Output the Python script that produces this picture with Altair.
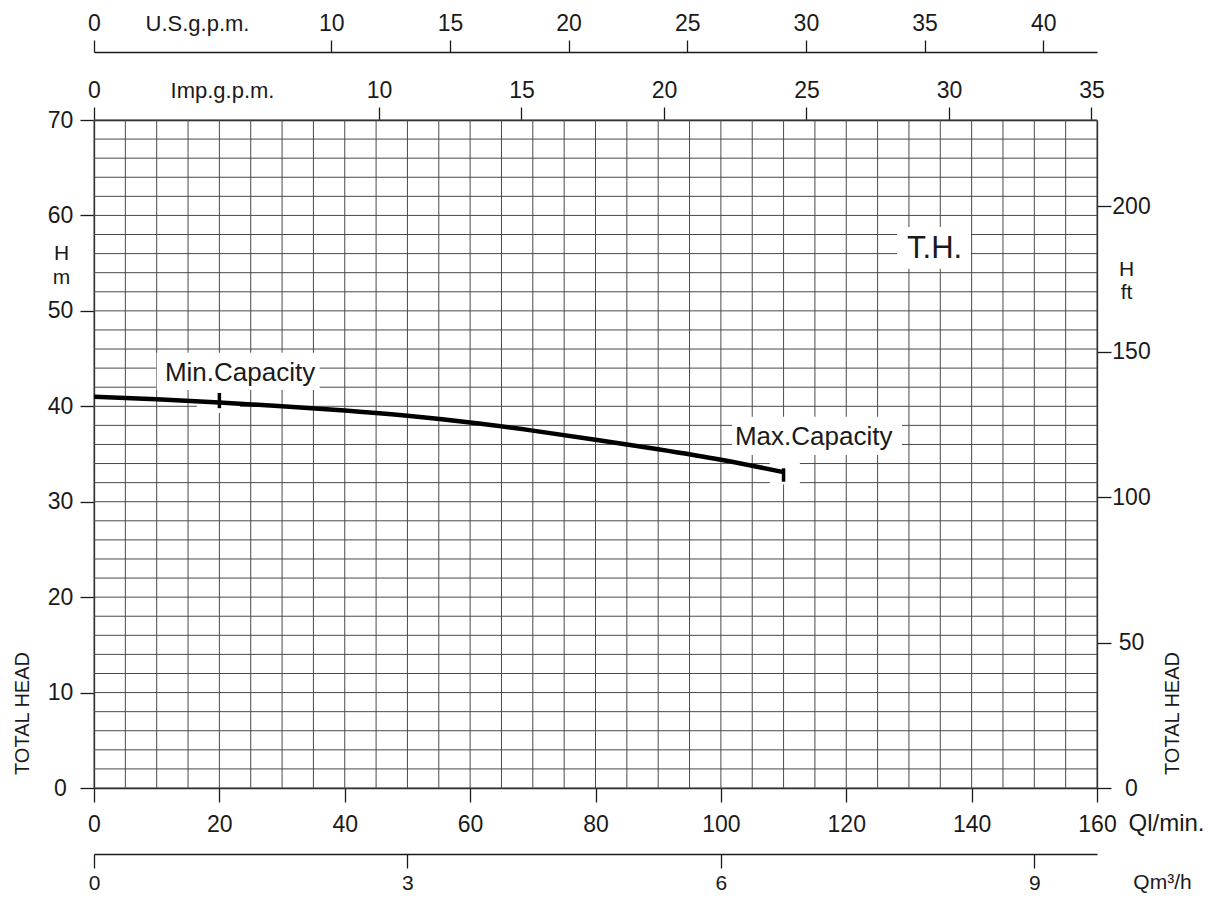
import altair as alt
import pandas as pd

# ---------------- data ----------------
Q_LMIN = [0, 10, 20, 30, 40, 50, 60, 70, 80, 90, 100, 110]
HEAD_M = [41.0, 40.75, 40.4, 40.0, 39.55, 39.0, 38.3, 37.45, 36.5, 35.5, 34.4, 33.1]

Q_TICKS = [0, 20, 40, 60, 80, 100, 120, 140, 160]
H_TICKS = [0, 10, 20, 30, 40, 50, 60, 70]
GRID_Q = list(range(0, 165, 5))
GRID_H = list(range(0, 72, 2))
IMP_TICKS = [0, 10, 15, 20, 25, 30, 35]
US_TICKS = [0, 10, 15, 20, 25, 30, 35, 40]
M3H_TICKS = [0, 3, 6, 9]
FT_TICKS = [0, 50, 100, 150, 200]

CAP_Q = [20, 110]
CAP_H_LO = [39.8, 32.1]
CAP_H_HI = [41.4, 33.5]

CAP_LABELS = ["Min.Capacity", "Max.Capacity"]
CAP_LABEL_Q = [23.3, 114.8]
CAP_LABEL_H = [43.5, 36.8]

TH_LABEL = ["T.H."]
TH_Q = [134.1]
TH_H = [56.5]

MASK_Q1 = [10.0, 16.4, 101.8, 107.8, 128.1]
MASK_Q2 = [36.0, 23.3, 128.9, 112.6, 139.9]
MASK_H1 = [41.7, 39.3, 34.9, 31.8, 54.4]
MASK_H2 = [45.6, 41.7, 38.9, 34.9, 58.8]

Q_MAX = 160
H_MAX = 70
L_PER_IMP_GAL = 4.54609
L_PER_US_GAL = 3.785411784
LMIN_PER_M3H = 1000 / 60
FT_PER_M = 1 / 0.3048

FONT = "Liberation Sans Narrow, Liberation Sans, sans-serif"
INK = "#1a1a1a"
GRID = "#4a4a4a"

sx = alt.Scale(domain=[0, Q_MAX], nice=False, zero=False)
sy = alt.Scale(domain=[0, H_MAX], nice=False, zero=False)


def axis(title_size=22, label_size=23, **kw):
    base = dict(grid=False, labelFlush=False, labelOverlap=False, format="d",
                labelFontSize=label_size, titleFontSize=title_size, titleFontWeight="normal",
                domainColor=INK, tickColor=INK, labelColor=INK, titleColor=INK,
                labelFont=FONT, titleFont=FONT, domainWidth=1.3, tickWidth=1.3)
    base.update(kw)
    return alt.Axis(**base)


x_axis = axis(24, orient="bottom", values=Q_TICKS, tickSize=14, labelPadding=11,
              title="Ql/min.", titleX=1072, titleY=42, titleAlign="center",
              titleBaseline="alphabetic")
y_axis = axis(21, orient="left", values=H_TICKS, tickSize=14, labelPadding=20,
              labelAlign="center", labelBaseline="middle",
              title=["H", "m"], titleAngle=0, titleX=-33, titleY=139,
              titleAlign="center", titleBaseline="alphabetic", titleLineHeight=24)


def X(field):
    return alt.X(field, scale=sx, axis=x_axis)


def Y(field):
    return alt.Y(field, scale=sy, axis=y_axis)


# ---------------- main panel ----------------
vgrid = alt.Chart(pd.DataFrame({"q": GRID_Q})).mark_rule(color=GRID, strokeWidth=1).encode(
    x=X("q:Q"))
hgrid = alt.Chart(pd.DataFrame({"h": GRID_H})).mark_rule(color=GRID, strokeWidth=1).encode(
    y=Y("h:Q"))

masks = alt.Chart(pd.DataFrame({"q1": MASK_Q1, "q2": MASK_Q2, "h1": MASK_H1, "h2": MASK_H2})).mark_rect(
    color="white").encode(x=X("q1:Q"), x2="q2:Q", y=Y("h1:Q"), y2="h2:Q")

curve = alt.Chart(pd.DataFrame({"q": Q_LMIN, "h": HEAD_M})).mark_line(
    color="black", strokeWidth=4.5, interpolate="monotone").encode(x=X("q:Q"), y=Y("h:Q"))

cap_ticks = alt.Chart(pd.DataFrame({"q": CAP_Q, "lo": CAP_H_LO, "hi": CAP_H_HI})).mark_rule(
    color="black", strokeWidth=3.5).encode(x=X("q:Q"), y=Y("lo:Q"), y2="hi:Q")

cap_text = alt.Chart(pd.DataFrame({"t": CAP_LABELS, "q": CAP_LABEL_Q, "h": CAP_LABEL_H})).mark_text(
    font=FONT, fontSize=26, color=INK, align="center", baseline="middle").encode(
    x=X("q:Q"), y=Y("h:Q"), text="t:N")

th_text = alt.Chart(pd.DataFrame({"t": TH_LABEL, "q": TH_Q, "h": TH_H})).mark_text(
    font=FONT, fontSize=31, color=INK, align="center", baseline="middle").encode(
    x=X("q:Q"), y=Y("h:Q"), text="t:N")

main = alt.layer(vgrid, hgrid, masks, curve, cap_ticks, cap_text, th_text)

# ---------------- secondary axes ----------------
imp = alt.Chart(pd.DataFrame({"v": IMP_TICKS})).mark_point(opacity=0).encode(
    x=alt.X("v:Q", scale=alt.Scale(domain=[0, Q_MAX / L_PER_IMP_GAL], nice=False, zero=False),
            axis=axis(orient="top", values=IMP_TICKS, tickSize=13, labelPadding=5, offset=0,
                      title="Imp.g.p.m.", titleX=128, titleY=-23, titleAlign="center",
                      titleBaseline="alphabetic")))

us = alt.Chart(pd.DataFrame({"v": US_TICKS})).mark_point(opacity=0).encode(
    x=alt.X("v:Q", scale=alt.Scale(domain=[0, Q_MAX / L_PER_US_GAL], nice=False, zero=False),
            axis=axis(orient="top", values=US_TICKS, tickSize=12, labelPadding=5, offset=68,
                      title="U.S.g.p.m.", titleX=103, titleY=-22, titleAlign="center",
                      titleBaseline="alphabetic")))

m3h = alt.Chart(pd.DataFrame({"v": M3H_TICKS})).mark_point(opacity=0).encode(
    x=alt.X("v:Q", scale=alt.Scale(domain=[0, Q_MAX / LMIN_PER_M3H], nice=False, zero=False),
            axis=axis(21, 21, orient="bottom", values=M3H_TICKS, tickSize=14, labelPadding=4, offset=66,
                      title="Qm³/h", titleX=1068, titleY=34, titleAlign="center",
                      titleBaseline="alphabetic")))

ft = alt.Chart(pd.DataFrame({"v": FT_TICKS})).mark_point(opacity=0).encode(
    y=alt.Y("v:Q", scale=alt.Scale(domain=[0, H_MAX * FT_PER_M], nice=False, zero=False),
            axis=axis(21, orient="right", values=FT_TICKS, tickSize=14, labelPadding=20,
                      labelAlign="center", labelBaseline="middle",
                      title=["H", "ft"], titleAngle=0, titleX=29, titleY=155,
                      titleAlign="center", titleBaseline="alphabetic", titleLineHeight=23)))

title_only = dict(labels=False, ticks=False, domain=False, grid=False, title="TOTAL HEAD",
                  titleAngle=270, titleAlign="center", titleBaseline="middle", titleY=593,
                  titleFontSize=20, titleFontWeight="normal", titleFont=FONT, titleColor=INK)

th_left = alt.Chart(pd.DataFrame({"v": H_TICKS})).mark_point(opacity=0).encode(
    y=alt.Y("v:Q", scale=alt.Scale(domain=[0, H_MAX], nice=False, zero=False),
            axis=alt.Axis(orient="left", titleX=-72, **title_only)))
th_right = alt.Chart(pd.DataFrame({"v": H_TICKS})).mark_point(opacity=0).encode(
    y=alt.Y("v:Q", scale=alt.Scale(domain=[0, H_MAX], nice=False, zero=False),
            axis=alt.Axis(orient="right", titleX=75, **title_only)))

chart = alt.layer(main, imp, us, m3h, ft, th_left, th_right).resolve_scale(
    x="independent", y="independent"
).properties(
    width=1003, height=668,
    padding={"left": 86, "top": 112, "right": 115, "bottom": 105},
    autosize=alt.AutoSizeParams(type="none"),
    background="white",
).configure_view(stroke=None)

chart.save("out.html", embed_options={"renderer": "svg", "actions": False})
